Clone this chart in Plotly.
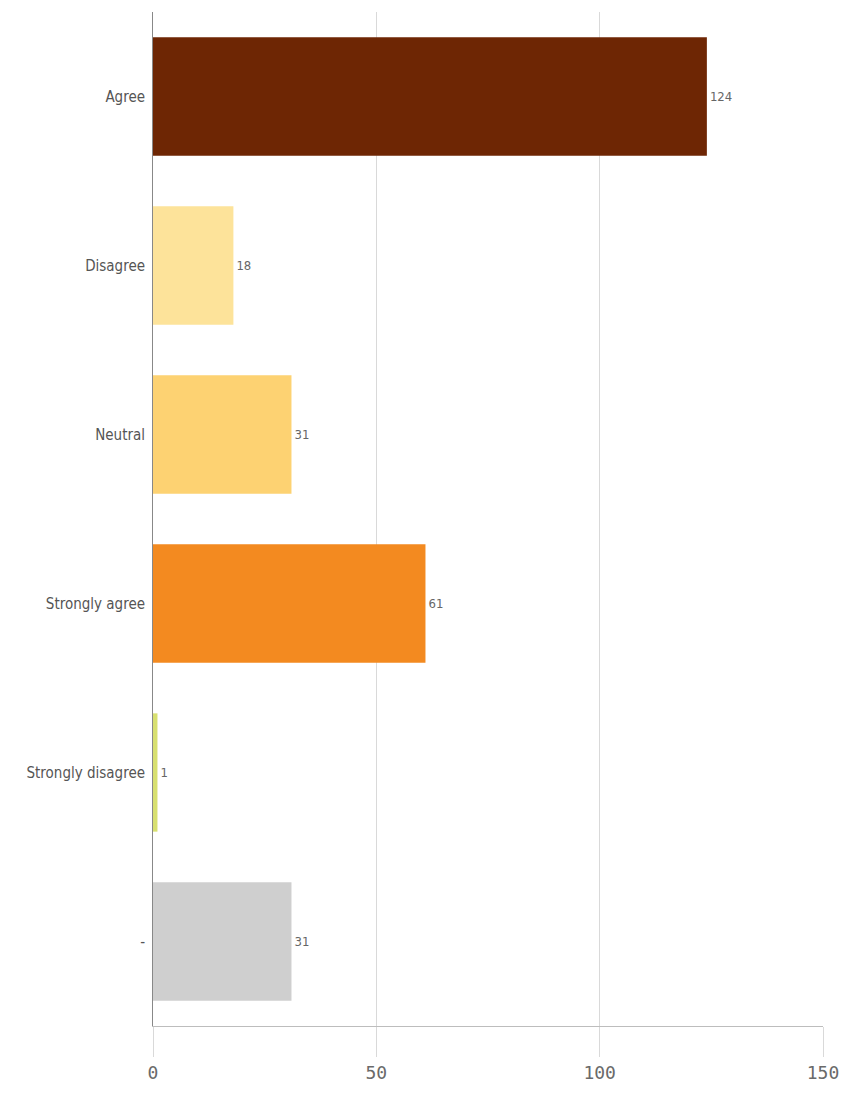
import plotly.graph_objects as go

categories = ["Agree", "Disagree", "Neutral", "Strongly agree", "Strongly disagree", "-"]
counts = [124, 18, 31, 61, 1, 31]
bar_colors = ["#6e2604", "#fde39a", "#fdd272", "#f38a20", "#d8e070", "#cfcfcf"]
x_ticks = [0, 50, 100, 150]

fig = go.Figure(
    go.Bar(
        y=categories,
        x=counts,
        orientation="h",
        marker=dict(color=bar_colors, line=dict(width=0)),
        text=[str(v) for v in counts],
        textposition="outside",
        textfont=dict(family="DejaVu Sans Condensed", size=13, color="#666666"),
        cliponaxis=False,
        width=0.7,
    )
)

fig.update_layout(
    width=841,
    height=1095,
    margin=dict(l=153, r=18, t=12, b=69, autoexpand=False),
    paper_bgcolor="white",
    plot_bgcolor="white",
    showlegend=False,
    font=dict(family="DejaVu Sans Condensed", color="#555555"),
)

fig.update_xaxes(
    range=[0, 150],
    tickvals=x_ticks,
    ticktext=[str(t) for t in x_ticks],
    showgrid=True,
    gridcolor="#d9d9d9",
    gridwidth=1,
    zeroline=False,
    showline=True,
    linecolor="#bdbdbd",
    ticks="outside",
    ticklen=30,
    tickcolor="#d9d9d9",
    automargin=False,
    tickfont=dict(family="DejaVu Sans Mono", size=18, color="#6a6a6a"),
)

fig.update_yaxes(
    categoryorder="array",
    categoryarray=categories,
    autorange="reversed",
    showgrid=False,
    zeroline=False,
    showline=True,
    linecolor="#888888",
    ticks="",
    automargin=False,
    ticklabelstandoff=4,
    tickfont=dict(family="DejaVu Sans Condensed", size=15, color="#555555"),
)

fig.write_html("out.html")
